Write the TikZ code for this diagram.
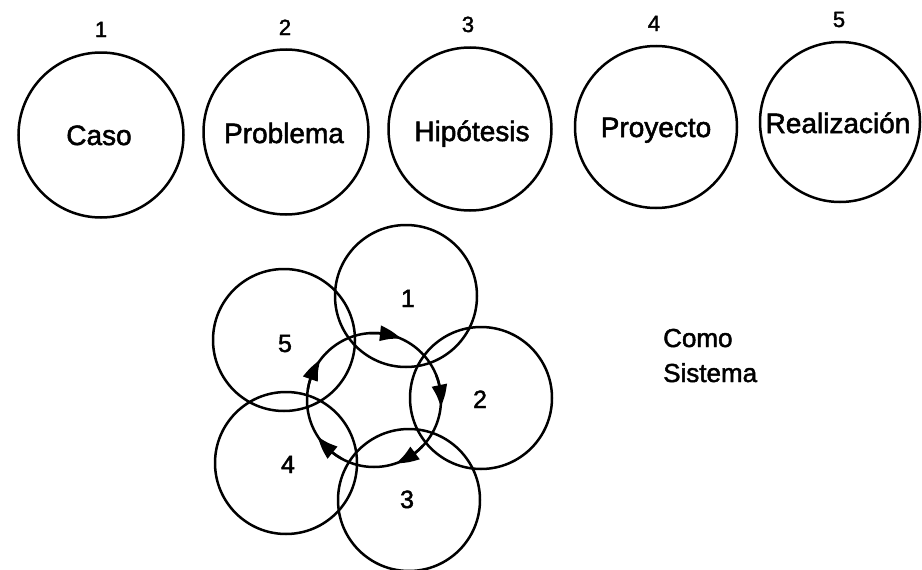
\documentclass[tikz,border=0pt]{standalone}
\usepackage{fontspec}
\setmainfont{Liberation Sans}[FakeBold=1.8]
\usetikzlibrary{arrows.meta,bending,calc}
\begin{document}
\begin{tikzpicture}[x=1pt,y=-1pt,
  ring/.style={draw=black, line width=2.5pt, circle, inner sep=0pt},
  word/.style={anchor=base, font=\fontsize{28}{34}\selectfont, inner sep=0pt},
  num/.style={anchor=base, font=\fontsize{22}{26}\selectfont, inner sep=0pt},
  snum/.style={anchor=base, font=\fontsize{25}{30}\selectfont, inner sep=0pt},
  side/.style={anchor=base west, font=\fontsize{26}{31}\selectfont, inner sep=0pt},
  flow/.style={line width=2.5pt, -{Triangle[length=22pt,width=15pt,bend]}}
]
\fill[white] (0,0) rectangle (922,570);
\useasboundingbox (0,0) rectangle (922,570);

% top row
\node[ring, minimum size=165pt] (c1) at (101,135) {};
\node[ring, minimum size=165pt] (c2) at (286,132) {};
\node[ring, minimum size=163pt] (c3) at (470,129) {};
\node[ring, minimum size=162pt] (c4) at (656,127) {};
\node[ring, minimum size=160pt] (c5) at (840,122) {};

\node[num] (n1) at (101,37) {1};
\node[num] (n2) at (285,35) {2};
\node[num] (n3) at (468,32) {3};
\node[num] (n4) at (654,31) {4};
\node[num] (n5) at (839,27) {5};

\node[word] (w1) at (99,145) {Caso};
\node[word] (w2) at (284,143) {Problema};
\node[word] (w3) at (472,141) {Hipótesis};
\node[word] (w4) at (656,137) {Proyecto};
\node[word] (w5) at (838,133) {Realización};

% system cluster
\coordinate (o) at (374,400);
\node[ring, minimum size=142pt] (s1) at (406,296) {};
\node[ring, minimum size=142pt] (s2) at (481,398) {};
\node[ring, minimum size=142pt] (s3) at (409,500) {};
\node[ring, minimum size=142pt] (s4) at (286,463) {};
\node[ring, minimum size=142pt] (s5) at (284,340) {};
\node[ring, minimum size=134pt] (cyc) at (o) {};

\foreach \t in {-66,6,71,147,217}{
  \draw[flow] ($(o)+(\t-28:67)$) arc[start angle=\t-28, end angle=\t, radius=67];
}

\node[snum] (m1) at (408,307) {1};
\node[snum] (m2) at (480,408) {2};
\node[snum] (m3) at (407,508) {3};
\node[snum] (m4) at (288,473) {4};
\node[snum] (m5) at (285,352) {5};

\node[side] (como) at (663,347) {Como};
\node[side] (sis) at (663,382) {Sistema};
\end{tikzpicture}
\end{document}
